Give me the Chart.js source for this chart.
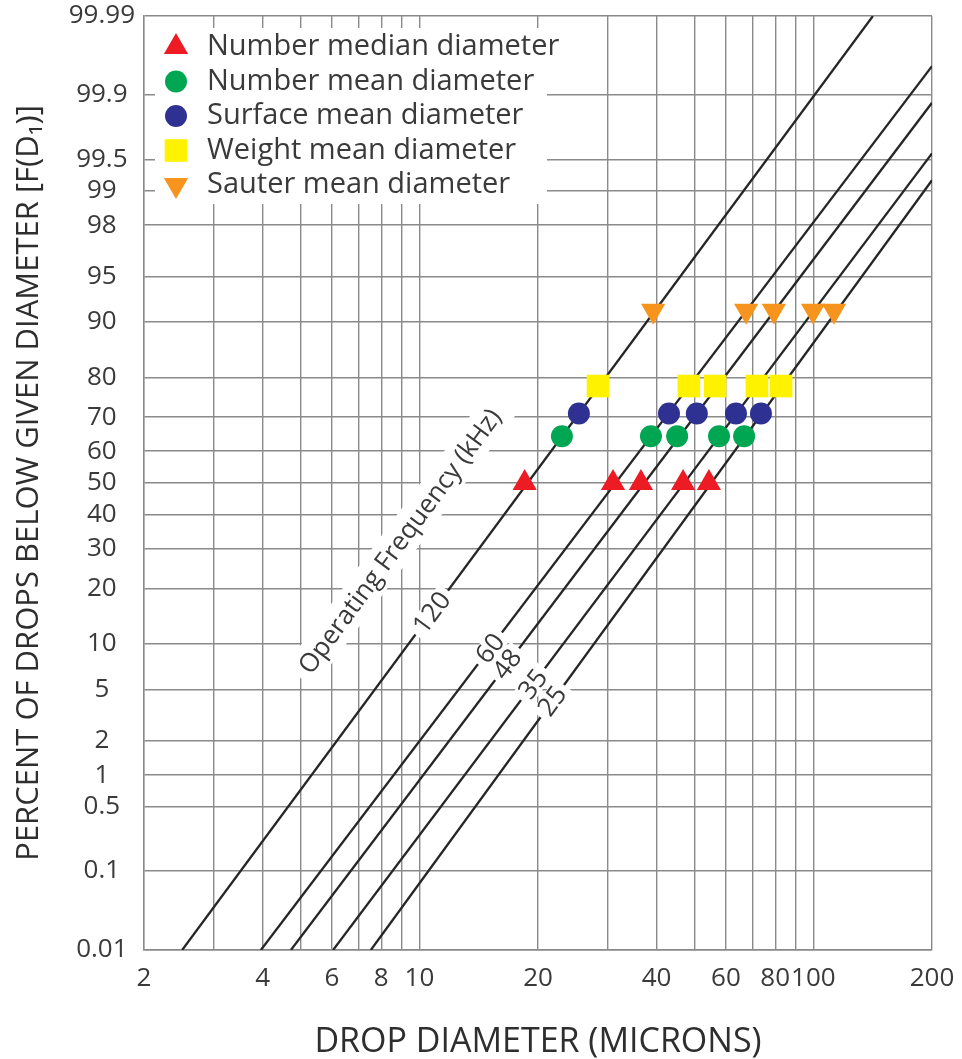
<!DOCTYPE html>
<html>
<head>
<meta charset="utf-8">
<title>Drop size distribution by operating frequency</title>
<script src="https://cdn.jsdelivr.net/npm/chart.js@4/dist/chart.umd.min.js"></script>
<style>
  html, body { margin: 0; padding: 0; background: #fff; }
  #chart { display: block; }
</style>
</head>
<body>
<canvas id="chart" width="962" height="1059"></canvas>
<script>
// ---- Values ----

// operating frequency lines (kHz), each a straight line on log-probability paper
const frequencies = ['120', '60', '48', '35', '25'];
const lineStartDiameter = [2.5, 3.96, 4.72, 6.04, 7.53];   // microns, at 0.01 %
const lineStartPercent = [0.01, 0.01, 0.01, 0.01, 0.01];
const lineEndDiameter = [141.6, 200, 200, 200, 200];
const lineEndPercent = [99.99, 99.955, 99.877, 99.567, 99.204];

// characteristic diameters, one value per frequency (120, 60, 48, 35, 25 kHz)
const seriesNames = [
  'Number median diameter',
  'Number mean diameter',
  'Surface mean diameter',
  'Weight mean diameter',
  'Sauter mean diameter'
];
const seriesPercent = [50, 64.5, 71, 78, 91.5];
const medianDiameter = [18.5, 31.0, 36.5, 46.7, 54.3];
const numberMeanDiameter = [23.0, 38.7, 45.1, 57.6, 66.7];
const surfaceMeanDiameter = [25.4, 43.0, 50.6, 63.6, 73.6];
const weightMeanDiameter = [28.4, 48.3, 56.3, 71.9, 82.8];
const sauterMeanDiameter = [39.2, 67.5, 79.4, 99.8, 112.8];

// axis ticks
const yTicks = [0.01, 0.1, 0.5, 1, 2, 5, 10, 20, 30, 40, 50, 60, 70, 80, 90, 95, 98, 99, 99.5, 99.9, 99.99];
const xGrid = [2, 3, 4, 5, 6, 7, 8, 9, 10, 20, 30, 40, 50, 60, 70, 80, 90, 100, 200];
const xLabels = [2, 4, 6, 8, 10, 20, 40, 60, 80, 100, 200];

// ---- Probability axis: inverse of the normal CDF (Acklam) ----
function probit(p) {
  const a = [-3.969683028665376e+01, 2.209460984245205e+02, -2.759285104469687e+02,
             1.383577518672690e+02, -3.066479806614716e+01, 2.506628277459239e+00];
  const b = [-5.447609879822406e+01, 1.615858368580409e+02, -1.556989798598866e+02,
             6.680131188771972e+01, -1.328068155288572e+01];
  const c = [-7.784894002430293e-03, -3.223964580411365e-01, -2.400758277161838e+00,
             -2.549732539343734e+00, 4.374664141464968e+00, 2.938163982698783e+00];
  const d = [7.784695709041462e-03, 3.224671290700398e-01, 2.445134137142996e+00,
             3.754408661907416e+00];
  const low = 0.02425;
  if (p < low) {
    const q = Math.sqrt(-2 * Math.log(p));
    return (((((c[0] * q + c[1]) * q + c[2]) * q + c[3]) * q + c[4]) * q + c[5]) /
           ((((d[0] * q + d[1]) * q + d[2]) * q + d[3]) * q + 1);
  }
  if (p > 1 - low) {
    const q = Math.sqrt(-2 * Math.log(1 - p));
    return -(((((c[0] * q + c[1]) * q + c[2]) * q + c[3]) * q + c[4]) * q + c[5]) /
            ((((d[0] * q + d[1]) * q + d[2]) * q + d[3]) * q + 1);
  }
  const q = p - 0.5;
  const r = q * q;
  return (((((a[0] * r + a[1]) * r + a[2]) * r + a[3]) * r + a[4]) * r + a[5]) * q /
         (((((b[0] * r + b[1]) * r + b[2]) * r + b[3]) * r + b[4]) * r + 1);
}

const FONT = '"Open Sans", "Noto Sans", "DejaVu Sans", sans-serif';
const GRID = '#8a8a8a';
const TEXT = '#3a3a3a';

// Legend drawn inside the plot on a white box (hides the grid behind it)
const boxLegend = {
  id: 'boxLegend',
  afterDatasetsDraw(chart, args, opts) {
    const { ctx, chartArea } = chart;
    const left = chartArea.left + opts.x;
    const top = chartArea.top + opts.y;
    ctx.save();
    ctx.fillStyle = '#fff';
    ctx.fillRect(left, top, opts.width, opts.height);
    ctx.font = opts.font;
    ctx.textBaseline = 'middle';
    ctx.textAlign = 'left';
    seriesNames.forEach((name, i) => {
      const ds = chart.data.datasets[i];
      const cy = top + opts.firstRow + i * opts.rowHeight;
      ctx.fillStyle = ds.backgroundColor;
      Chart.helpers.drawPoint(ctx, {
        pointStyle: ds.pointStyle,
        rotation: ds.pointRotation || 0,
        radius: ds.pointRadius,
        borderWidth: 0
      }, left + opts.markerX, cy);
      ctx.fillStyle = TEXT;
      ctx.fillText(name, left + opts.textX, cy);
    });
    ctx.restore();
  }
};

// Frequency numbers written on the lines, plus the rotated caption
const lineLabels = {
  id: 'lineLabels',
  afterDatasetsDraw(chart, args, opts) {
    const { ctx } = chart;
    const yScale = chart.scales.y;
    ctx.save();
    ctx.font = opts.font;
    ctx.textAlign = 'center';
    ctx.textBaseline = 'middle';
    frequencies.forEach((label, i) => {
      const [p0, p1] = chart.getDatasetMeta(seriesNames.length + i).data;
      const angle = Math.atan2(p1.y - p0.y, p1.x - p0.x);
      const spot = (pct) => {
        const y = yScale.getPixelForValue(probit(pct / 100));
        const t = (y - p0.y) / (p1.y - p0.y);
        return { x: p0.x + t * (p1.x - p0.x), y };
      };
      const s = spot(opts.at[i]);
      boxedText(ctx, label, s.x, s.y, angle, 0, 22, 5);
      if (i === 0) {
        const c = spot(opts.captionAt);
        boxedText(ctx, opts.caption, c.x, c.y, angle, -opts.captionOffset, 36, 8);
      }
    });
    ctx.restore();
  }
};

function boxedText(ctx, text, x, y, angle, offset, boxHeight, pad) {
  const w = ctx.measureText(text).width;
  ctx.save();
  ctx.translate(x, y);
  ctx.rotate(angle);
  ctx.fillStyle = '#fff';
  ctx.fillRect(-w / 2 - pad, offset - boxHeight / 2, w + 2 * pad, boxHeight);
  ctx.fillStyle = TEXT;
  ctx.fillText(text, 0, offset + 1);
  ctx.restore();
}

document.addEventListener('DOMContentLoaded', () => {
  const seriesDiameters = [medianDiameter, numberMeanDiameter, surfaceMeanDiameter,
                           weightMeanDiameter, sauterMeanDiameter];
  const seriesColors = ['#ed1c24', '#00a651', '#2e3192', '#fff200', '#f7941d'];
  const seriesStyles = ['triangle', 'circle', 'circle', 'rect', 'triangle'];
  const seriesRotation = [0, 0, 0, 0, 180];
  const seriesRadius = [14, 11, 11, 16, 14];

  const markerSets = seriesNames.map((name, i) => ({
    label: name,
    data: seriesDiameters[i].map(d => ({ x: d, y: probit(seriesPercent[i] / 100) })),
    backgroundColor: seriesColors[i],
    pointStyle: seriesStyles[i],
    pointRotation: seriesRotation[i],
    pointRadius: seriesRadius[i],
    pointBorderWidth: 0,
    showLine: false
  }));

  const lineSets = frequencies.map((f, i) => ({
    label: f + ' kHz',
    data: [
      { x: lineStartDiameter[i], y: probit(lineStartPercent[i] / 100) },
      { x: lineEndDiameter[i], y: probit(lineEndPercent[i] / 100) }
    ],
    showLine: true,
    borderColor: '#262626',
    borderWidth: 2.3,
    pointRadius: 0,
    fill: false
  }));

  // tick marks are kept but made invisible: they give the label gap
  // without adding to the scale padding around the plot
  const hiddenTicks = 'rgba(0,0,0,0)';

  new Chart(document.getElementById('chart'), {
    type: 'scatter',
    data: { datasets: [...markerSets, ...lineSets] },
    options: {
      responsive: false,
      animation: false,
      events: [],
      layout: { padding: { top: 12, right: 30, bottom: 0, left: 0 } },
      plugins: {
        legend: { display: false },
        tooltip: { enabled: false },
        boxLegend: {
          x: 11, y: 12, width: 392, height: 176,
          markerX: 21, textX: 52, firstRow: 19, rowHeight: 34.5,
          font: '29px ' + FONT
        },
        lineLabels: {
          font: '26px ' + FONT,
          at: [15.1, 9.4, 7.45, 5.46, 4.12],
          caption: 'Operating Frequency (kHz)',
          captionAt: 21.6,
          captionOffset: 68
        }
      },
      scales: {
        x: {
          type: 'logarithmic',
          min: 2,
          max: 200,
          afterBuildTicks: (scale) => { scale.ticks = xGrid.map(v => ({ value: v })); },
          afterFit: (scale) => { scale.height = 109; },
          grid: { color: GRID, lineWidth: 1.4, drawTicks: true, tickLength: 13, tickColor: hiddenTicks },
          border: { color: GRID, width: 1.4 },
          ticks: {
            autoSkip: false,
            maxRotation: 0,
            padding: 0,
            color: TEXT,
            font: { family: FONT, size: 26 },
            callback: (v) => xLabels.includes(v) ? String(v) : ''
          },
          title: {
            display: true,
            text: 'DROP DIAMETER (MICRONS)',
            color: '#2e2e2e',
            font: { family: FONT, size: 34, lineHeight: 1 },
            padding: { top: 0, bottom: 0 }
          }
        },
        y: {
          type: 'linear',
          min: probit(yTicks[0] / 100),
          max: probit(yTicks[yTicks.length - 1] / 100),
          afterBuildTicks: (scale) => { scale.ticks = yTicks.map(p => ({ value: probit(p / 100) })); },
          afterFit: (scale) => { scale.width = 144; },
          grid: { color: GRID, lineWidth: 1.4, drawTicks: true, tickLength: 9, tickColor: hiddenTicks },
          border: { color: GRID, width: 1.4 },
          ticks: {
            autoSkip: false,
            crossAlign: 'center',
            padding: 0,
            color: TEXT,
            font: { family: FONT, size: 26, lineHeight: 0.9 },
            callback: (v, i) => String(yTicks[i])
          },
          title: {
            display: true,
            text: 'PERCENT OF DROPS BELOW GIVEN DIAMETER [F(D\u2081)]',
            color: '#2e2e2e',
            font: { family: FONT, size: 31 },
            padding: { top: 11, bottom: 0 }
          }
        }
      }
    },
    plugins: [boxLegend, lineLabels]
  });
});
</script>
</body>
</html>
